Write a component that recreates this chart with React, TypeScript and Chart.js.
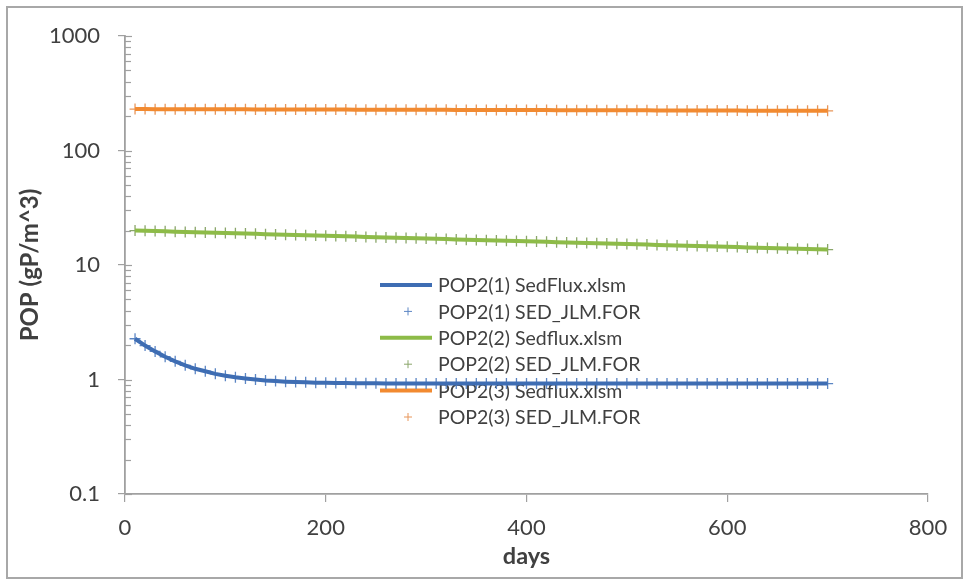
import React, { useEffect, useRef } from "react";
import { Chart, registerables } from "chart.js";

Chart.register(...registerables);

const days = [
  10, 20, 30, 40, 50, 60, 70, 80, 90, 100,
  110, 120, 130, 140, 150, 160, 170, 180, 190, 200,
  210, 220, 230, 240, 250, 260, 270, 280, 290, 300,
  310, 320, 330, 340, 350, 360, 370, 380, 390, 400,
  410, 420, 430, 440, 450, 460, 470, 480, 490, 500,
  510, 520, 530, 540, 550, 560, 570, 580, 590, 600,
  610, 620, 630, 640, 650, 660, 670, 680, 690, 700,
];

const pop1Sedflux = [
  2.27, 1.98, 1.76, 1.58, 1.44, 1.33, 1.24, 1.18, 1.12, 1.08,
  1.045, 1.02, 1.0, 0.98, 0.968, 0.958, 0.95, 0.944, 0.938, 0.935,
  0.932, 0.93, 0.928, 0.927, 0.926, 0.925, 0.925, 0.925, 0.925, 0.925,
  0.925, 0.925, 0.925, 0.925, 0.925, 0.924, 0.924, 0.924, 0.924, 0.924,
  0.924, 0.924, 0.924, 0.924, 0.924, 0.923, 0.923, 0.923, 0.923, 0.923,
  0.923, 0.923, 0.923, 0.923, 0.923, 0.922, 0.922, 0.922, 0.922, 0.922,
  0.922, 0.922, 0.922, 0.922, 0.922, 0.921, 0.921, 0.921, 0.921, 0.921,
];

const pop2Sedflux = [
  20.0, 19.89, 19.78, 19.67, 19.56, 19.45, 19.34, 19.23, 19.13, 19.02,
  18.92, 18.81, 18.71, 18.6, 18.5, 18.4, 18.3, 18.19, 18.09, 17.99,
  17.89, 17.79, 17.7, 17.6, 17.5, 17.4, 17.31, 17.21, 17.12, 17.02,
  16.93, 16.84, 16.74, 16.65, 16.56, 16.47, 16.38, 16.29, 16.2, 16.11,
  16.02, 15.93, 15.84, 15.75, 15.67, 15.58, 15.49, 15.41, 15.32, 15.24,
  15.15, 15.07, 14.98, 14.9, 14.82, 14.74, 14.66, 14.57, 14.49, 14.41,
  14.33, 14.25, 14.17, 14.1, 14.02, 13.94, 13.86, 13.79, 13.71, 13.63,
];

const pop3Sedflux = [
  230.0, 229.9, 229.8, 229.7, 229.5, 229.4, 229.3, 229.2, 229.1, 229.0,
  228.8, 228.7, 228.6, 228.5, 228.4, 228.3, 228.1, 228.0, 227.9, 227.8,
  227.7, 227.6, 227.5, 227.3, 227.2, 227.1, 227.0, 226.9, 226.8, 226.6,
  226.5, 226.4, 226.3, 226.2, 226.1, 225.9, 225.8, 225.7, 225.6, 225.5,
  225.4, 225.3, 225.1, 225.0, 224.9, 224.8, 224.7, 224.6, 224.4, 224.3,
  224.2, 224.1, 224.0, 223.9, 223.8, 223.6, 223.5, 223.4, 223.3, 223.2,
  223.1, 222.9, 222.8, 222.7, 222.6, 222.5, 222.4, 222.3, 222.1, 222.0,
];

// SED_JLM.FOR results coincide with the spreadsheet results
const pop1Jlm = [...pop1Sedflux];
const pop2Jlm = [...pop2Sedflux];
const pop3Jlm = [...pop3Sedflux];

const seriesLabels = [
  "POP2(1) SedFlux.xlsm",
  "POP2(1) SED_JLM.FOR",
  "POP2(2) Sedflux.xlsm",
  "POP2(2) SED_JLM.FOR",
  "POP2(3) Sedflux.xlsm",
  "POP2(3) SED_JLM.FOR",
];

const xTicks = [0, 200, 400, 600, 800];
const yTicks = [0.1, 1, 10, 100, 1000];
const yTickLabels = ["0.1", "1", "10", "100", "1000"];

const FONT = 'Lato, "Liberation Sans", sans-serif';
const AXIS_COLOR = "#a0a0a0";
const TEXT_COLOR = "#404040";

const toPoints = (ys: number[]) => ys.map((y, i) => ({ x: days[i], y }));

const frameTicksPlugin = {
  id: "frameTicks",
  beforeDraw(chart: any) {
    const { ctx, width, height } = chart;
    ctx.save();
    ctx.fillStyle = "#ffffff";
    ctx.fillRect(0, 0, width, height);
    ctx.strokeStyle = "#a8a8a8";
    ctx.lineWidth = 2;
    ctx.strokeRect(7, 7, 955, 571);
    ctx.restore();
  },
  beforeDatasetsDraw(chart: any) {
    const { ctx, chartArea } = chart;
    const y = chart.scales.y;
    ctx.save();
    ctx.strokeStyle = AXIS_COLOR;
    ctx.lineWidth = 1.2;
    const left = chartArea.left;
    for (let d = 0; d < yTicks.length; d++) {
      const base = yTicks[d];
      const py = Math.round(y.getPixelForValue(base)) + 0.5;
      ctx.beginPath();
      ctx.moveTo(left, py);
      ctx.lineTo(left + 7, py);
      ctx.stroke();
      if (d < yTicks.length - 1) {
        for (let m = 2; m <= 9; m++) {
          const pm = Math.round(y.getPixelForValue(base * m)) + 0.5;
          ctx.beginPath();
          ctx.moveTo(left, pm);
          ctx.lineTo(left + 6, pm);
          ctx.stroke();
        }
      }
    }
    ctx.restore();
  },
};

const legendPlugin = {
  id: "insideLegend",
  beforeDatasetsDraw(chart: any) {
    const { ctx, chartArea } = chart;
    const x0 = chartArea.left + 255;
    const y0 = chartArea.top + 249;
    const rowH = 26.4;
    ctx.save();
    ctx.font = `19.5px ${FONT}`;
    ctx.textBaseline = "middle";
    ctx.textAlign = "left";
    chart.data.datasets.forEach((ds: any, i: number) => {
      const yy = y0 + i * rowH;
      if (ds.showLine) {
        ctx.strokeStyle = ds.borderColor;
        ctx.lineWidth = 4;
        ctx.beginPath();
        ctx.moveTo(x0, yy);
        ctx.lineTo(x0 + 52, yy);
        ctx.stroke();
      } else {
        ctx.strokeStyle = ds.pointBorderColor;
        ctx.lineWidth = 1;
        const cx = x0 + 28;
        ctx.beginPath();
        ctx.moveTo(cx - 4, yy);
        ctx.lineTo(cx + 4, yy);
        ctx.moveTo(cx, yy - 4);
        ctx.lineTo(cx, yy + 4);
        ctx.stroke();
      }
      ctx.fillStyle = TEXT_COLOR;
      ctx.fillText(ds.label, x0 + 58, yy + 1);
    });
    ctx.restore();
  },
};

function lineSet(label: string, ys: number[], color: string) {
  return {
    label,
    data: toPoints(ys),
    showLine: true,
    borderColor: color,
    backgroundColor: color,
    borderWidth: 4,
    pointRadius: 0,
    tension: 0,
  };
}

function markerSet(label: string, ys: number[], color: string) {
  return {
    label,
    data: toPoints(ys),
    showLine: false,
    borderColor: color,
    backgroundColor: color,
    pointBorderColor: color,
    pointStyle: "cross",
    pointRadius: 5.5,
    pointBorderWidth: 1.3,
  };
}

export default function App() {
  const ref = useRef<HTMLCanvasElement | null>(null);

  useEffect(() => {
    if (!ref.current) return;
    const chart = new Chart(ref.current, {
      type: "scatter",
      data: {
        datasets: [
          lineSet(seriesLabels[0], pop1Sedflux, "#3e6db3"),
          markerSet(seriesLabels[1], pop1Jlm, "#5c86c4"),
          lineSet(seriesLabels[2], pop2Sedflux, "#8dbb48"),
          markerSet(seriesLabels[3], pop2Jlm, "#8aa66a"),
          lineSet(seriesLabels[4], pop3Sedflux, "#f28a30"),
          markerSet(seriesLabels[5], pop3Jlm, "#e8965a"),
        ] as any,
      },
      options: {
        animation: false,
        responsive: false,
        maintainAspectRatio: false,
        layout: { padding: { left: 0, right: 36, top: 36, bottom: 0 } },
        plugins: {
          legend: { display: false },
          tooltip: { enabled: false },
        },
        scales: {
          x: {
            type: "linear",
            min: 0,
            max: 800,
            afterBuildTicks: (scale: any) => {
              scale.ticks = xTicks.map((v) => ({ value: v }));
            },
            afterFit: (scale: any) => {
              scale.height = 87;
            },
            grid: {
              display: true,
              drawOnChartArea: false,
              drawTicks: true,
              tickLength: 8,
              color: AXIS_COLOR,
              lineWidth: 1.2,
            },
            border: { display: true, color: AXIS_COLOR, width: 1.8 },
            ticks: {
              padding: 13,
              color: TEXT_COLOR,
              font: { family: FONT, size: 22 },
              maxRotation: 0,
              callback: (v: any) => String(v),
            },
            title: {
              display: true,
              text: "days",
              color: TEXT_COLOR,
              font: { family: FONT, size: 23.5, weight: "bold" },
              padding: { top: 0, bottom: 10 },
            },
          },
          y: {
            type: "logarithmic",
            min: 0.1,
            max: 1000,
            afterBuildTicks: (scale: any) => {
              scale.ticks = yTicks.map((v) => ({ value: v }));
            },
            afterFit: (scale: any) => {
              scale.width = 125;
            },
            grid: {
              display: true,
              drawOnChartArea: false,
              drawTicks: true,
              tickLength: 7,
              color: AXIS_COLOR,
              lineWidth: 1.2,
            },
            border: { display: true, color: AXIS_COLOR, width: 1.8 },
            ticks: {
              padding: 18,
              color: TEXT_COLOR,
              font: { family: FONT, size: 22 },
              callback: (v: any) => {
                const idx = yTicks.findIndex((t) => Math.abs(t - Number(v)) < 1e-9 * Math.max(1, t));
                return idx >= 0 ? yTickLabels[idx] : "";
              },
            },
            title: {
              display: true,
              text: "POP (gP/m^3)",
              color: TEXT_COLOR,
              font: { family: FONT, size: 24, weight: "bold" },
              padding: { top: 15.5, bottom: 0 },
            },
          },
        },
      },
      plugins: [frameTicksPlugin, legendPlugin],
    } as any);
    return () => chart.destroy();
  }, []);

  return (
    <div style={{ position: "fixed", left: 0, top: 0, width: 964, height: 581 }}>
      <canvas ref={ref} width={964} height={581} style={{ display: "block" }} />
    </div>
  );
}
